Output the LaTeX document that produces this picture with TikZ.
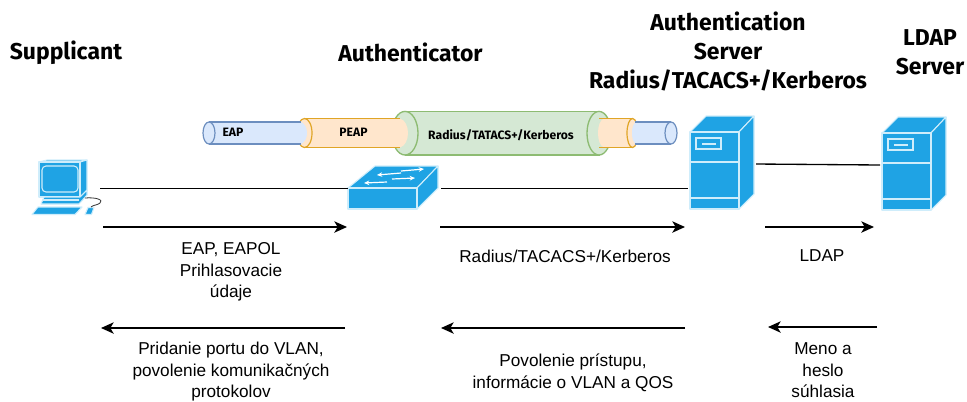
\documentclass[tikz,border=0pt]{standalone}
\usepackage{fontspec}
\setmainfont{Liberation Sans}
\newfontfamily\headfont{Fira Sans}
\usetikzlibrary{arrows.meta}
\definecolor{dev}{HTML}{1FA3E4}
\definecolor{devl}{HTML}{CFEDFB}
\definecolor{bluef}{HTML}{DAE8FC}
\definecolor{blued}{HTML}{6C8EBF}
\definecolor{peachf}{HTML}{FFE6CC}
\definecolor{peachd}{HTML}{E0A526}
\definecolor{greenf}{HTML}{D5E8D4}
\definecolor{greend}{HTML}{8DBB72}
\tikzset{
  x=0.75pt,y=-0.75pt,
  link/.style={draw=black,line width=1pt},
  flow/.style={draw=black,line width=1pt,-{Stealth[length=9.5pt,width=8.5pt,inset=2.5pt]}},
  lbl/.style={font=\fontsize{12.9}{16.1}\selectfont,align=center,inner sep=0pt,anchor=center},
  head/.style={font=\headfont\bfseries\fontsize{17.2}{22}\selectfont,align=center,inner sep=0pt,anchor=center},
  pipelbl/.style={font=\headfont\bfseries\fontsize{9.1}{11}\selectfont,inner sep=0pt,anchor=center},
  icon/.style={fill=dev,draw=devl,line width=0.8pt,line join=round},
  iconl/.style={draw=devl,line width=0.8pt},
  ghost/.style={inner sep=0pt,outer sep=0pt},
  bluep/.style={fill=bluef,draw=blued,line width=0.9pt},
  peachp/.style={fill=peachf,draw=peachd,line width=0.9pt},
  greenp/.style={fill=greenf,draw=greend,line width=1pt},
  swarrow/.style={draw=white,line width=0.9pt,-{Stealth[length=4pt,width=3.5pt]}},
}
\newcommand{\serverglyph}[2]{%
  \begin{scope}[shift={(#1,#2)}]
    \path[icon] (0,0) -- (16,-16) -- (64,-16) -- (49,0) -- cycle;
    \path[icon] (49,0) -- (64,-16) -- (64,62) -- (49,77) -- cycle;
    \path[icon] (0,0) rectangle (49,77);
    \draw[iconl] (0,30) -- (49,30) (0,66) -- (49,66);
    \draw[iconl] (6,6) rectangle (31,17);
    \draw[iconl] (12,12) -- (26,12);
  \end{scope}}
\begin{document}
\begin{tikzpicture}
\useasboundingbox (0,0) rectangle (967,401);
\fill[white] (0,0) rectangle (967,401);

% invisible device boxes that the links attach to
\node[ghost,minimum width=52.5pt,minimum height=51pt] (pc)   at (65,188.5) {};
\node[ghost,minimum width=69.75pt,minimum height=36pt] (sw)  at (394.5,188.5) {};
\node[ghost,minimum width=51pt,minimum height=75pt]  (srva) at (722,164) {};
\node[ghost,minimum width=51pt,minimum height=75pt]  (srvb) at (914,165) {};

% --- green pipe
\path[fill=greenf] (405,111.5) rectangle (600,155);
\draw[greend,line width=1pt] (405,111.5) -- (600,111.5) (405,155) -- (600,155);
\path[greenp] (405,133.2) ellipse[x radius=13,y radius=21.8];
\path[greenp] (599,133.2) ellipse[x radius=12,y radius=21.8];

% --- peach left
\path[fill=peachf] (305,118.5) -- (400,118.5) .. controls (405,120) and (408,126) .. (408,133) .. controls (408,140) and (405,146) .. (400,147.5) -- (305,147.5) -- cycle;
\draw[peachd,line width=0.9pt] (305,118.5) -- (400,118.5) (305,147.5) -- (400,147.5);
\path[peachp] (304.5,133) ellipse[x radius=7.5,y radius=14.5];
% --- blue left
\path[fill=bluef] (209,122) -- (301,122) .. controls (305,124) and (307,128) .. (307,133) .. controls (307,138) and (305,142) .. (301,144) -- (209,144) -- cycle;
\draw[blued,line width=0.9pt] (209,122) -- (301,122) (209,144) -- (301,144);
\path[bluep] (209,133) ellipse[x radius=6,y radius=11];

% --- peach right
\path[fill=peachf] (604,118.5) -- (632,118.5) -- (632,147.5) -- (604,147.5) .. controls (600,146) and (598,140) .. (598,133) .. controls (598,126) and (600,120) .. (604,118.5) -- cycle;
\draw[peachd,line width=0.9pt] (599,118.5) -- (632,118.5) (599,147.5) -- (632,147.5);
\path[peachp] (632.5,133) ellipse[x radius=5.5,y radius=14.5];
% --- blue right
\path[fill=bluef] (636,122) -- (671,122) -- (671,144) -- (636,144) .. controls (633,142) and (632,138) .. (632,133) .. controls (632,128) and (633,124) .. (636,122) -- cycle;
\draw[blued,line width=0.9pt] (635,122) -- (671,122) (635,144) -- (671,144);
\path[bluep] (671,133) ellipse[x radius=6,y radius=11];

\node[pipelbl] (leap) at (233,132) {EAP};
\node[pipelbl] (lpeap) at (353.5,132) {PEAP};
\node[pipelbl] (lrad) at (501,135) {Radius/TATACS+/Kerberos};

% --- switch
\path[icon] (348,188) -- (375,166) -- (438,166) -- (417,188) -- cycle;
\path[icon] (417,188) -- (438,166) -- (438,188) -- (417,209) -- cycle;
\path[icon] (348,188) rectangle (417,209);
\draw[swarrow] (401,173) -- (377,175);
\draw[swarrow] (401,171) -- (424,169);
\draw[swarrow] (387,182) -- (364,183);
\draw[swarrow] (392,179) -- (415,178);

% --- servers
\serverglyph{690}{132}
\serverglyph{882}{133}

% --- computer
\path[icon] (39,162) -- (47,160) -- (87,160) -- (80,162) -- cycle;
\path[icon] (80,162) -- (87,160) -- (87,190) -- (80,197) -- cycle;
\path[icon] (39,162) rectangle (80,197);
\draw[iconl,rounded corners=3pt] (42,166) rectangle (78,192);
\path[icon] (44,197) -- (80,197) -- (87,190) -- (87,195) -- (79,204) -- (41,204) -- cycle;
\draw[iconl] (43,200) -- (79,200);
\path[icon] (38,207) -- (82,207) -- (75,214.5) -- (32,214.5) -- cycle;
\path[icon] (88,207.5) -- (94,207.5) -- (91.5,214.5) -- (85,214.5) -- cycle;
\draw[black!80,line width=0.6pt] (85,198) .. controls (96,197) and (104,200) .. (100,203) .. controls (98,205) and (93,205) .. (91,207);

% --- links
\draw[link] (pc.east) -- (sw.west);
\draw[link] (sw.east) -- (srva.west |- sw.east);
\draw[link] (srva.east) -- (srvb.west);

% --- flows
\coordinate (a1) at (103,227); \coordinate (a2) at (347,227);
\coordinate (b1) at (440,227); \coordinate (b2) at (685,227);
\coordinate (c1) at (765,227); \coordinate (c2) at (874,227);
\coordinate (d1) at (345,328); \coordinate (d2) at (101,328);
\coordinate (e1) at (685,328); \coordinate (e2) at (441,328);
\coordinate (f1) at (877,327); \coordinate (f2) at (768,327);
\draw[flow] (a1) -- (a2);
\draw[flow] (b1) -- (b2);
\draw[flow] (c1) -- (c2);
\draw[flow] (d1) -- (d2);
\draw[flow] (e1) -- (e2);
\draw[flow] (f1) -- (f2);

% --- headings
\node[head] (h1) at (66,53) {Supplicant};
\node[head] (h2) at (410.5,52) {Authenticator};
\node[head] (h3) at (728,51.5) {Authentication\\Server\\Radius/TACACS+/Kerberos};
\node[head] (h4) at (930,52) {LDAP\\Server};

% --- labels
\node[lbl] (l1) at (231,272) {EAP, EAPOL\\Prihlasovacie\\údaje};
\node[lbl] (l2) at (565,256) {Radius/TACACS+/Kerberos};
\node[lbl] (l3) at (822,256) {LDAP};
\node[lbl] (l4) at (231,372) {Pridanie portu do VLAN,\\povolenie komunikačných\\protokolov};
\node[lbl] (l5) at (573,373) {Povolenie prístupu,\\informácie o VLAN a QOS};
\node[lbl] (l6) at (823,370.5) {Meno a\\heslo\\súhlasia};
\end{tikzpicture}
\end{document}
